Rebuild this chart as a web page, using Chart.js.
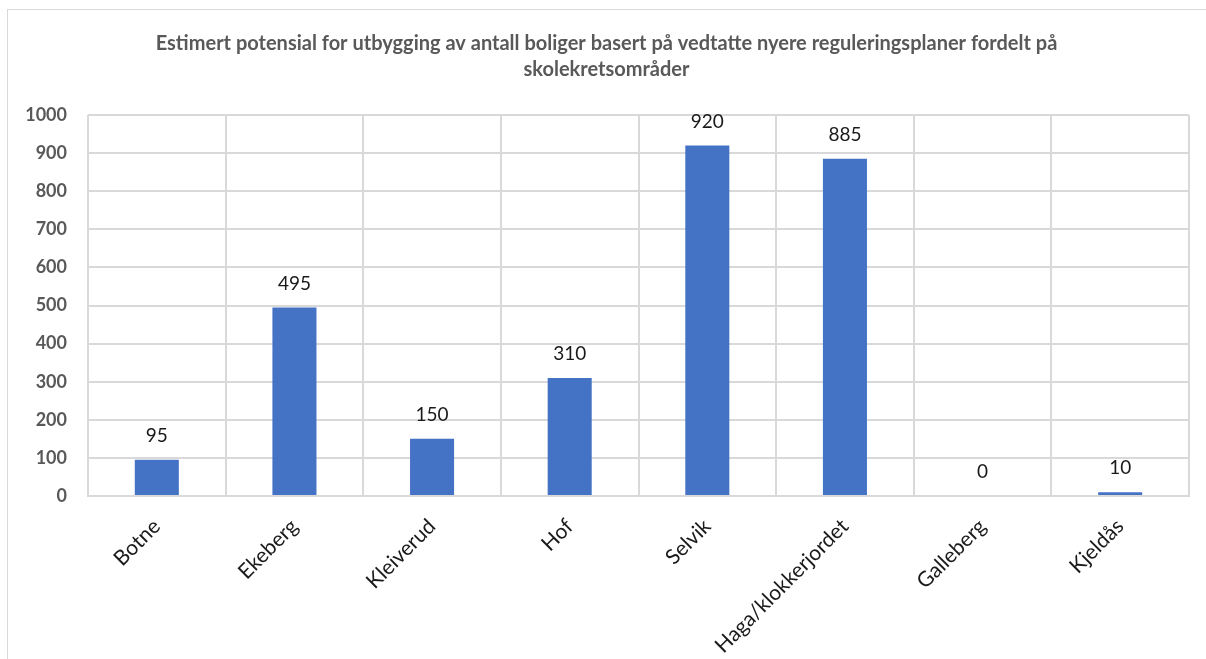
<!DOCTYPE html>
<html><head><meta charset="utf-8">
<script src="https://cdn.jsdelivr.net/npm/chart.js@4.4.1/dist/chart.umd.min.js"></script>
<style>
html,body{margin:0;padding:0;background:#fff;overflow:hidden;width:1206px;height:659px;}
#wrap{position:absolute;left:7px;top:9px;width:1228px;height:700px;border:1px solid #d9d9d9;background:#fff;}
canvas{display:block;}
</style></head>
<body>
<div id="wrap"><canvas id="c" width="1228" height="700"></canvas></div>
<script>
const titleLines = ["Estimert potensial for utbygging av antall boliger basert på vedtatte nyere reguleringsplaner fordelt på", "skolekretsområder"];
const categories = ["Botne","Ekeberg","Kleiverud","Hof","Selvik","Haga/klokkerjordet","Galleberg","Kjeldås"];
const values = [95,495,150,310,920,885,0,10];
const yMin = 0, yMax = 1000, yStep = 100;

const FONT = "Lato, 'Open Sans', 'Liberation Sans', sans-serif";

const valueLabels = {
  id:'valueLabels',
  afterDatasetsDraw(chart){
    const ctx = chart.ctx;
    const meta = chart.getDatasetMeta(0);
    ctx.save();
    ctx.font = "19px " + FONT;
    ctx.fillStyle = "#1a1a1a";
    ctx.textAlign = "center";
    ctx.textBaseline = "middle";
    meta.data.forEach((bar,i)=>{
      ctx.fillText(String(chart.data.datasets[0].data[i]), bar.x, bar.y - 24);
    });
    ctx.restore();
  }
};

new Chart(document.getElementById('c'), {
  type:'bar',
  data:{labels:categories, datasets:[{data:values, backgroundColor:'#4472C4', borderWidth:0, barPercentage:1, categoryPercentage:0.32}]},
  options:{
    responsive:false, animation:false,
    layout:{padding:{left:16,right:47,top:0,bottom:0}},
    plugins:{
      legend:{display:false}, tooltip:{enabled:false},
      title:{display:true, text:titleLines, color:'#595959', font:{family:FONT, size:20, weight:'bold', lineHeight:1.3}, padding:{top:21,bottom:32}}
    },
    scales:{
      x:{
        afterFit(s){ s.height = 214; },
        grid:{offset:true, color:'#d9d9d9', lineWidth:2, drawTicks:false},
        border:{color:'#d9d9d9', width:2},
        ticks:{maxRotation:45, minRotation:45, color:'#1a1a1a', font:{family:FONT, size:21}, padding:18}
      },
      y:{
        min:yMin, max:yMax,
        afterFit(s){ s.width = 64; },
        grid:{color:'#d9d9d9', lineWidth:2, drawTicks:false},
        border:{display:false},
        ticks:{stepSize:yStep, color:'#595959', font:{family:FONT, size:18, weight:'bold'}, padding:21, callback:(v)=>String(v)}
      }
    }
  },
  plugins:[valueLabels]
});
</script>
</body></html>
